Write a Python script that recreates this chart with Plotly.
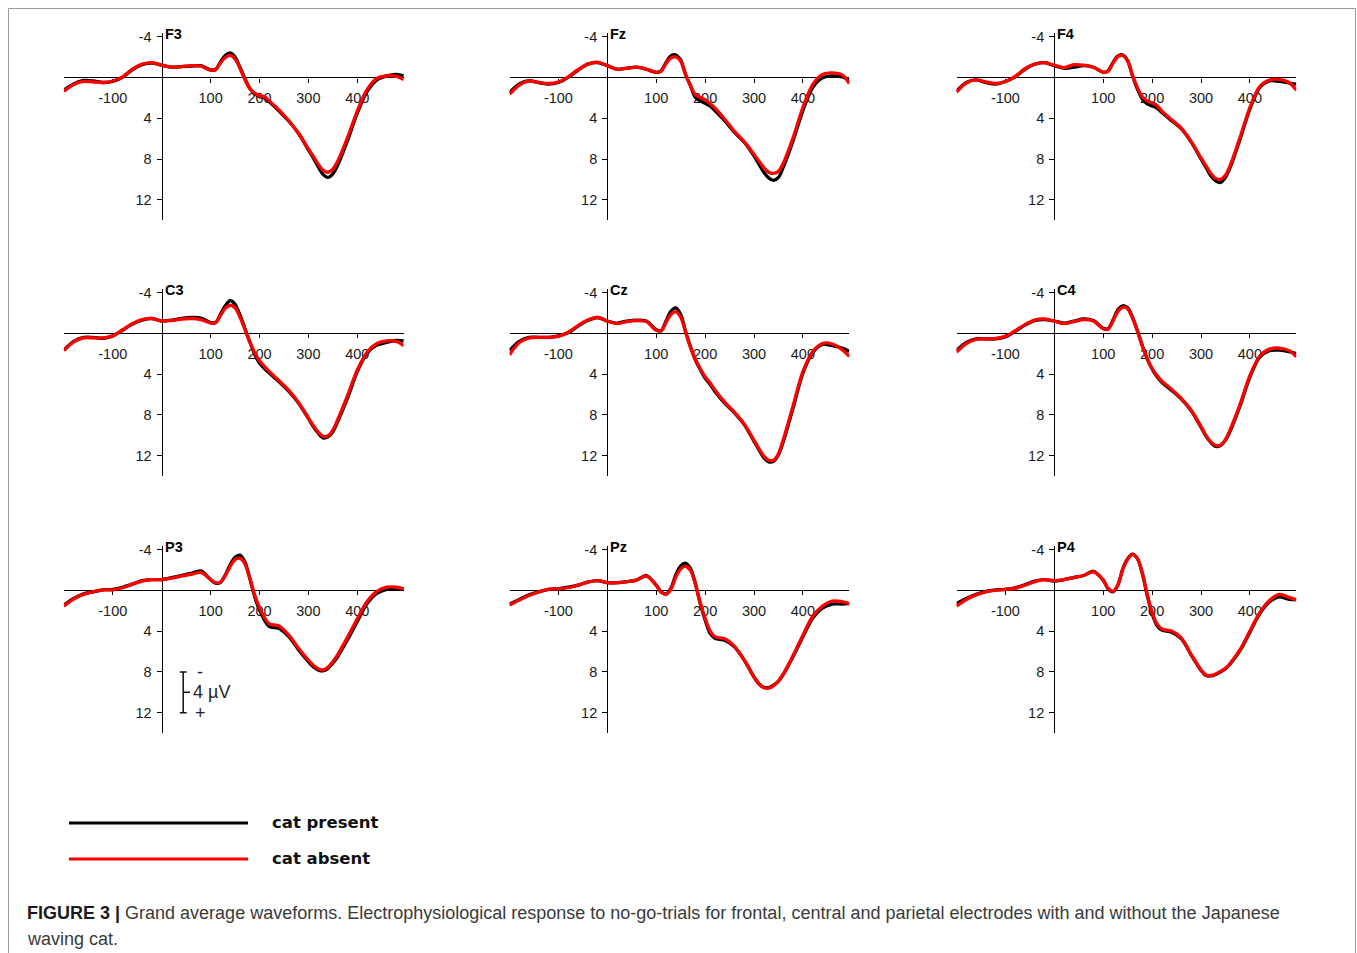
import plotly.graph_objects as go

# ---------------------------------------------------------------- data
# time points (ms) relative to stimulus onset
time_ms = [-200, -180, -160, -140, -120, -100, -80, -60, -40, -20, 0, 20, 40, 60, 80,
           100, 110, 120, 130, 140, 150, 160, 170, 180, 190, 200, 210, 220,
           240, 260, 280, 300, 310, 320, 330, 340, 350, 360, 380, 400, 420, 440, 460, 480, 495]

electrodes = ["F3", "Fz", "F4", "C3", "Cz", "C4", "P3", "Pz", "P4"]

# grand average amplitudes (µV), "cat present" condition
present_F3 = [1.25, 0.65, 0.3, 0.35, 0.5, 0.4, 0.0, -0.75, -1.25, -1.4, -1.2, -1.0, -1.05, -1.1, -1.15,
              -0.75, -0.75, -1.5, -2.15, -2.4, -2.0, -1.0, 0.1, 1.05, 1.6, 1.9, 2.0, 2.4,
              3.3, 4.3, 5.5, 7.1, 7.9, 8.75, 9.5, 9.8, 9.45, 8.6, 6.2, 3.5, 1.4, 0.25, -0.15, -0.3, -0.15]
present_Fz = [1.5, 0.65, 0.33, 0.5, 0.65, 0.5, 0.0, -0.7, -1.3, -1.45, -1.15, -0.8, -0.9, -1.0, -0.8,
              -0.5, -0.65, -1.45, -2.1, -2.2, -1.7, -0.3, 0.8, 1.95, 2.3, 2.55, 2.8, 3.25,
              4.25, 5.4, 6.35, 7.7, 8.5, 9.3, 9.85, 10.1, 9.8, 8.8, 6.2, 3.25, 1.0, 0.05, -0.15, -0.05, 0.25]
present_F4 = [1.35, 0.5, 0.25, 0.5, 0.65, 0.4, -0.05, -0.8, -1.3, -1.45, -1.15, -0.9, -1.0, -1.15, -1.0,
              -0.5, -0.65, -1.45, -2.1, -2.2, -1.65, -0.15, 1.15, 2.1, 2.6, 2.8, 3.0, 3.45,
              4.25, 5.05, 6.35, 8.0, 8.8, 9.65, 10.15, 10.3, 9.8, 8.8, 6.05, 3.1, 1.0, 0.35, 0.4, 0.55, 0.65]
present_C3 = [1.65, 0.8, 0.4, 0.4, 0.5, 0.25, -0.3, -0.9, -1.3, -1.45, -1.2, -1.3, -1.45, -1.55, -1.5,
              -1.05, -1.05, -1.85, -2.7, -3.2, -2.85, -1.8, -0.5, 0.8, 2.05, 2.95, 3.45, 3.9,
              4.75, 5.7, 6.85, 8.35, 9.15, 9.8, 10.25, 10.15, 9.65, 8.65, 6.35, 3.75, 1.95, 1.15, 0.9, 0.7, 0.75]
present_Cz = [1.7, 0.8, 0.4, 0.4, 0.4, 0.25, -0.05, -0.7, -1.25, -1.55, -1.2, -1.0, -1.2, -1.3, -1.2,
              -0.35, -0.25, -1.2, -2.15, -2.5, -1.85, -0.2, 1.3, 2.6, 3.55, 4.4, 5.0, 5.7,
              6.85, 7.8, 8.95, 10.6, 11.4, 12.2, 12.6, 12.55, 11.9, 10.6, 7.3, 3.9, 1.9, 1.1, 1.2, 1.45, 1.75]
present_C4 = [1.7, 0.9, 0.55, 0.55, 0.55, 0.35, -0.2, -0.8, -1.25, -1.35, -1.2, -1.0, -1.2, -1.4, -1.25,
              -0.5, -0.45, -1.3, -2.3, -2.7, -2.5, -1.55, -0.25, 1.2, 2.5, 3.5, 4.25, 4.8,
              5.6, 6.45, 7.6, 9.2, 10.05, 10.7, 11.1, 11.0, 10.5, 9.55, 7.1, 4.3, 2.35, 1.7, 1.65, 1.8, 2.0]
present_P3 = [1.45, 0.8, 0.35, 0.15, -0.05, -0.1, -0.3, -0.6, -0.95, -1.05, -1.05, -1.25, -1.45, -1.65, -1.9,
              -1.05, -0.7, -0.75, -1.5, -2.5, -3.25, -3.45, -2.8, -1.2, 0.6, 1.95, 2.9, 3.55,
              3.75, 4.55, 5.85, 7.0, 7.5, 7.8, 7.9, 7.65, 7.15, 6.5, 4.85, 3.05, 1.3, 0.3, -0.1, -0.2, -0.15]
present_Pz = [1.35, 0.9, 0.45, 0.15, -0.1, -0.15, -0.3, -0.5, -0.8, -0.95, -0.75, -0.75, -0.85, -1.0, -1.45,
              -0.5, 0.15, 0.35, -0.2, -1.5, -2.4, -2.65, -2.15, -0.7, 1.3, 2.9, 4.2, 4.7,
              4.9, 5.55, 6.85, 8.5, 9.15, 9.5, 9.55, 9.3, 8.9, 8.25, 6.5, 4.55, 2.75, 1.75, 1.35, 1.35, 1.3]
present_P4 = [1.3, 0.8, 0.4, 0.1, -0.05, -0.1, -0.25, -0.55, -0.9, -1.05, -0.9, -1.05, -1.25, -1.45, -1.85,
              -1.0, -0.15, 0.15, -0.5, -2.1, -3.1, -3.55, -3.1, -1.65, 0.5, 2.3, 3.45, 3.9,
              4.1, 4.75, 6.35, 7.85, 8.35, 8.4, 8.25, 8.0, 7.7, 7.2, 5.9, 4.1, 2.3, 1.15, 0.65, 0.9, 0.9]

# grand average amplitudes (µV), "cat absent" condition
absent_F3 = [1.35, 0.7, 0.4, 0.45, 0.5, 0.35, -0.05, -0.8, -1.3, -1.45, -1.2, -1.0, -1.05, -1.15, -1.1,
             -0.7, -0.8, -1.4, -1.95, -2.15, -1.8, -0.9, 0.2, 1.1, 1.55, 1.8, 1.9, 2.3,
             3.2, 4.25, 5.5, 7.0, 7.75, 8.5, 9.1, 9.3, 9.0, 8.2, 5.9, 3.3, 1.2, 0.1, -0.15, -0.1, 0.2]
absent_Fz = [1.65, 0.75, 0.35, 0.5, 0.6, 0.45, -0.05, -0.75, -1.3, -1.5, -1.15, -0.8, -0.9, -1.0, -0.8,
             -0.5, -0.6, -1.35, -1.9, -2.0, -1.6, -0.3, 0.8, 1.7, 1.95, 2.2, 2.55, 3.0,
             4.1, 5.3, 6.3, 7.55, 8.2, 8.85, 9.3, 9.4, 9.2, 8.4, 5.9, 2.95, 0.7, -0.3, -0.45, -0.25, 0.6]
absent_F4 = [1.45, 0.55, 0.25, 0.45, 0.6, 0.4, -0.1, -0.85, -1.3, -1.45, -1.2, -0.95, -1.25, -1.2, -1.0,
             -0.5, -0.6, -1.4, -2.05, -2.15, -1.6, -0.2, 1.0, 1.9, 2.3, 2.5, 2.75, 3.3,
             4.15, 5.0, 6.3, 7.9, 8.65, 9.4, 9.9, 10.0, 9.6, 8.6, 5.85, 2.95, 0.9, 0.25, 0.2, 0.5, 1.25]
absent_C3 = [1.7, 0.85, 0.45, 0.45, 0.45, 0.25, -0.35, -0.95, -1.35, -1.45, -1.2, -1.25, -1.4, -1.45, -1.35,
             -1.0, -1.05, -1.75, -2.45, -2.75, -2.5, -1.6, -0.4, 0.85, 1.9, 2.7, 3.25, 3.75,
             4.65, 5.6, 6.8, 8.3, 9.05, 9.7, 10.1, 10.05, 9.5, 8.45, 6.1, 3.6, 1.85, 1.0, 0.75, 0.8, 1.2]
absent_Cz = [2.1, 0.9, 0.45, 0.4, 0.4, 0.3, -0.1, -0.75, -1.3, -1.55, -1.2, -0.95, -1.15, -1.25, -1.15,
             -0.3, -0.25, -1.05, -1.85, -2.1, -1.6, -0.1, 1.35, 2.55, 3.45, 4.25, 4.85, 5.55,
             6.75, 7.75, 8.9, 10.5, 11.3, 12.05, 12.45, 12.45, 11.8, 10.4, 7.1, 3.75, 1.8, 1.0, 1.05, 1.6, 2.25]
absent_C4 = [1.85, 1.0, 0.6, 0.55, 0.5, 0.3, -0.25, -0.85, -1.3, -1.4, -1.2, -0.95, -1.15, -1.35, -1.2,
             -0.45, -0.4, -1.2, -2.15, -2.55, -2.4, -1.5, -0.2, 1.25, 2.5, 3.45, 4.15, 4.7,
             5.5, 6.4, 7.55, 9.15, 10.0, 10.65, 11.0, 10.95, 10.4, 9.4, 6.95, 4.15, 2.25, 1.55, 1.45, 1.7, 2.3]
absent_P3 = [1.55, 0.85, 0.4, 0.15, -0.05, -0.05, -0.25, -0.6, -0.9, -1.05, -1.05, -1.2, -1.4, -1.55, -1.75,
             -1.05, -0.75, -0.8, -1.45, -2.35, -3.0, -3.15, -2.6, -1.2, 0.45, 1.7, 2.65, 3.3,
             3.5, 4.4, 5.7, 6.85, 7.35, 7.7, 7.8, 7.55, 7.0, 6.3, 4.6, 2.8, 1.1, 0.1, -0.3, -0.3, -0.15]
absent_Pz = [1.45, 0.95, 0.5, 0.15, -0.1, -0.15, -0.25, -0.5, -0.8, -0.95, -0.75, -0.75, -0.85, -1.0, -1.4,
             -0.5, 0.2, 0.4, -0.1, -1.3, -2.1, -2.35, -1.95, -0.6, 1.2, 2.75, 3.95, 4.55,
             4.75, 5.5, 6.85, 8.5, 9.2, 9.55, 9.6, 9.35, 8.9, 8.2, 6.4, 4.4, 2.55, 1.55, 1.05, 1.1, 1.3]
absent_P4 = [1.55, 0.9, 0.45, 0.15, 0.0, -0.1, -0.2, -0.5, -0.85, -1.05, -0.95, -1.05, -1.25, -1.45, -1.8,
             -1.0, -0.2, 0.1, -0.55, -2.05, -3.05, -3.5, -3.1, -1.7, 0.4, 2.15, 3.3, 3.8,
             4.0, 4.7, 6.3, 7.8, 8.3, 8.35, 8.2, 7.95, 7.65, 7.15, 5.8, 4.0, 2.2, 1.0, 0.4, 0.7, 0.95]

present = {"F3": present_F3, "Fz": present_Fz, "F4": present_F4,
           "C3": present_C3, "Cz": present_Cz, "C4": present_C4,
           "P3": present_P3, "Pz": present_Pz, "P4": present_P4}
absent = {"F3": absent_F3, "Fz": absent_Fz, "F4": absent_F4,
          "C3": absent_C3, "Cz": absent_Cz, "C4": absent_C4,
          "P3": absent_P3, "Pz": absent_Pz, "P4": absent_P4}

x_tick_vals = [-100, 100, 200, 300, 400]
y_tick_vals = [-4, 4, 8, 12]

# calibration bar: 4 µV drawn from 8 to 12 µV in the P3 panel
scale_bar_uv = 4
scale_bar_start = 8
scale_bar_time = 44

# ---------------------------------------------------------------- layout geometry (pixels)
W, H = 1357, 953
col_axis_px = [161.7, 607.3, 1054.3]   # x position of each column's time-zero axis
row_zero_px = [77.4, 333.3, 590.3]     # y position of each row's 0 µV axis
PX_PER_MS = 0.489
PX_PER_UV = 10.2
T_MIN, T_MAX = -200, 495
V_MIN, V_MAX = -4.35, 14.0

TICK_FONT = dict(family="Liberation Sans, Arial, sans-serif", size=14.5, color="#1a1a1a")

fig = go.Figure()
layout_axes = {}
annotations = []

for i, name in enumerate(electrodes):
    r, c = divmod(i, 3)
    n = "" if i == 0 else str(i + 1)
    ax0 = col_axis_px[c]
    z0 = row_zero_px[r]

    fig.add_trace(go.Scatter(
        x=time_ms, y=present[name], mode="lines", name="cat present",
        line=dict(color="#000000", width=3.3, shape="spline", smoothing=0.9),
        xaxis="x" + n, yaxis="y" + n, showlegend=False, hoverinfo="skip"))
    fig.add_trace(go.Scatter(
        x=time_ms, y=absent[name], mode="lines", name="cat absent",
        line=dict(color="#ff0000", width=3.3, shape="spline", smoothing=0.9),
        xaxis="x" + n, yaxis="y" + n, showlegend=False, hoverinfo="skip"))

    x_dom = [(ax0 + T_MIN * PX_PER_MS) / W, (ax0 + T_MAX * PX_PER_MS) / W]
    y_top_px = z0 + V_MIN * PX_PER_UV
    y_bot_px = z0 + V_MAX * PX_PER_UV
    y_dom = [1 - y_bot_px / H, 1 - y_top_px / H]

    layout_axes["xaxis" + n] = dict(
        domain=x_dom, range=[T_MIN, T_MAX], anchor="free", position=1 - z0 / H,
        showline=True, linecolor="#000000", linewidth=1.3,
        ticks="outside", ticklen=4, tickwidth=1, tickcolor="#000000",
        tickvals=x_tick_vals, ticktext=[str(v) for v in x_tick_vals],
        tickfont=TICK_FONT, ticklabelstandoff=3, automargin=False,
        showgrid=False, zeroline=False, layer="below traces", fixedrange=True)
    layout_axes["yaxis" + n] = dict(
        domain=y_dom, range=[V_MAX, V_MIN], anchor="free", position=ax0 / W,
        showline=True, linecolor="#000000", linewidth=1.3,
        ticks="outside", ticklen=5, tickwidth=1, tickcolor="#000000",
        tickvals=y_tick_vals, ticktext=[str(v) for v in y_tick_vals],
        tickfont=TICK_FONT, ticklabelstandoff=2, automargin=False,
        showgrid=False, zeroline=False, layer="below traces", fixedrange=True)

    # electrode label at the top of the amplitude axis
    annotations.append(dict(
        x=(ax0 + 1.0) / W, y=1 - (y_top_px + 1.0) / H, xref="paper", yref="paper",
        text="<b>%s</b>" % name, showarrow=False, xanchor="left", yanchor="middle",
        font=dict(family="Liberation Sans, Arial, sans-serif", size=14.5, color="#000000")))

# calibration bar inside the P3 panel
sb_top = scale_bar_start
sb_bot = scale_bar_start + scale_bar_uv
sb_mid = (sb_top + sb_bot) / 2
cap = 7
fig.add_trace(go.Scatter(
    x=[scale_bar_time - cap, scale_bar_time + cap, None,
       scale_bar_time, scale_bar_time, None,
       scale_bar_time - cap, scale_bar_time + cap, None,
       scale_bar_time, scale_bar_time + 2 * cap],
    y=[sb_top, sb_top, None, sb_top, sb_bot, None, sb_bot, sb_bot, None, sb_mid, sb_mid],
    mode="lines", line=dict(color="#111111", width=1.5),
    xaxis="x7", yaxis="y7", showlegend=False, hoverinfo="skip"))
SB_FONT = dict(family="Liberation Sans, Arial, sans-serif", size=18, color="#222222")
annotations += [
    dict(x=scale_bar_time + 34, y=sb_top, xref="x7", yref="y7", text="-", showarrow=False,
         xanchor="center", yanchor="middle", font=SB_FONT),
    dict(x=scale_bar_time + 15, y=sb_mid, xref="x7", yref="y7",
         text="%d µV" % scale_bar_uv, showarrow=False,
         xanchor="left", yanchor="middle", font=SB_FONT),
    dict(x=scale_bar_time + 35, y=sb_bot, xref="x7", yref="y7", text="+", showarrow=False,
         xanchor="center", yanchor="middle", font=SB_FONT),
]

# legend
LEG_FONT = dict(family="DejaVu Sans, Verdana, sans-serif", size=16.5, color="#111111")
legend_items = [("cat present", "#000000", 823), ("cat absent", "#ff0000", 859)]
shapes = []
for label, color, ypx in legend_items:
    shapes.append(dict(type="line", xref="paper", yref="paper",
                       x0=69 / W, x1=248 / W, y0=1 - ypx / H, y1=1 - ypx / H,
                       line=dict(color=color, width=3)))
    annotations.append(dict(x=270 / W, y=1 - (ypx - 1) / H, xref="paper", yref="paper",
                            text="<b>%s</b>" % label, showarrow=False,
                            xanchor="left", yanchor="middle", font=LEG_FONT))

# figure frame
shapes.append(dict(type="rect", xref="paper", yref="paper",
                   x0=8.5 / W, x1=1355.5 / W, y0=-0.05, y1=1 - 8.5 / H,
                   line=dict(color="#9a9a9a", width=1), fillcolor="rgba(0,0,0,0)"))

# caption
CAP_FONT = dict(family="Liberation Sans, Arial, sans-serif", size=18, color="#3a3a3a")
annotations.append(dict(
    x=25 / W, y=1 - 913 / H, xref="paper", yref="paper", showarrow=False,
    xanchor="left", yanchor="middle", font=CAP_FONT,
    text="<b><span style='color:#1a1a1a'>FIGURE 3 |</span></b> Grand average waveforms. "
         "Electrophysiological response to no-go-trials for frontal, central and parietal "
         "electrodes with and without the Japanese"))
annotations.append(dict(
    x=25 / W, y=1 - 939 / H, xref="paper", yref="paper", showarrow=False,
    xanchor="left", yanchor="middle", font=CAP_FONT, text="waving cat."))

fig.update_layout(
    width=W, height=H,
    margin=dict(l=0, r=0, t=0, b=0, pad=0, autoexpand=False),
    paper_bgcolor="#ffffff", plot_bgcolor="rgba(0,0,0,0)",
    showlegend=False,
    annotations=annotations, shapes=shapes,
    **layout_axes)

fig.write_html("out.html", config={"displayModeBar": False})
